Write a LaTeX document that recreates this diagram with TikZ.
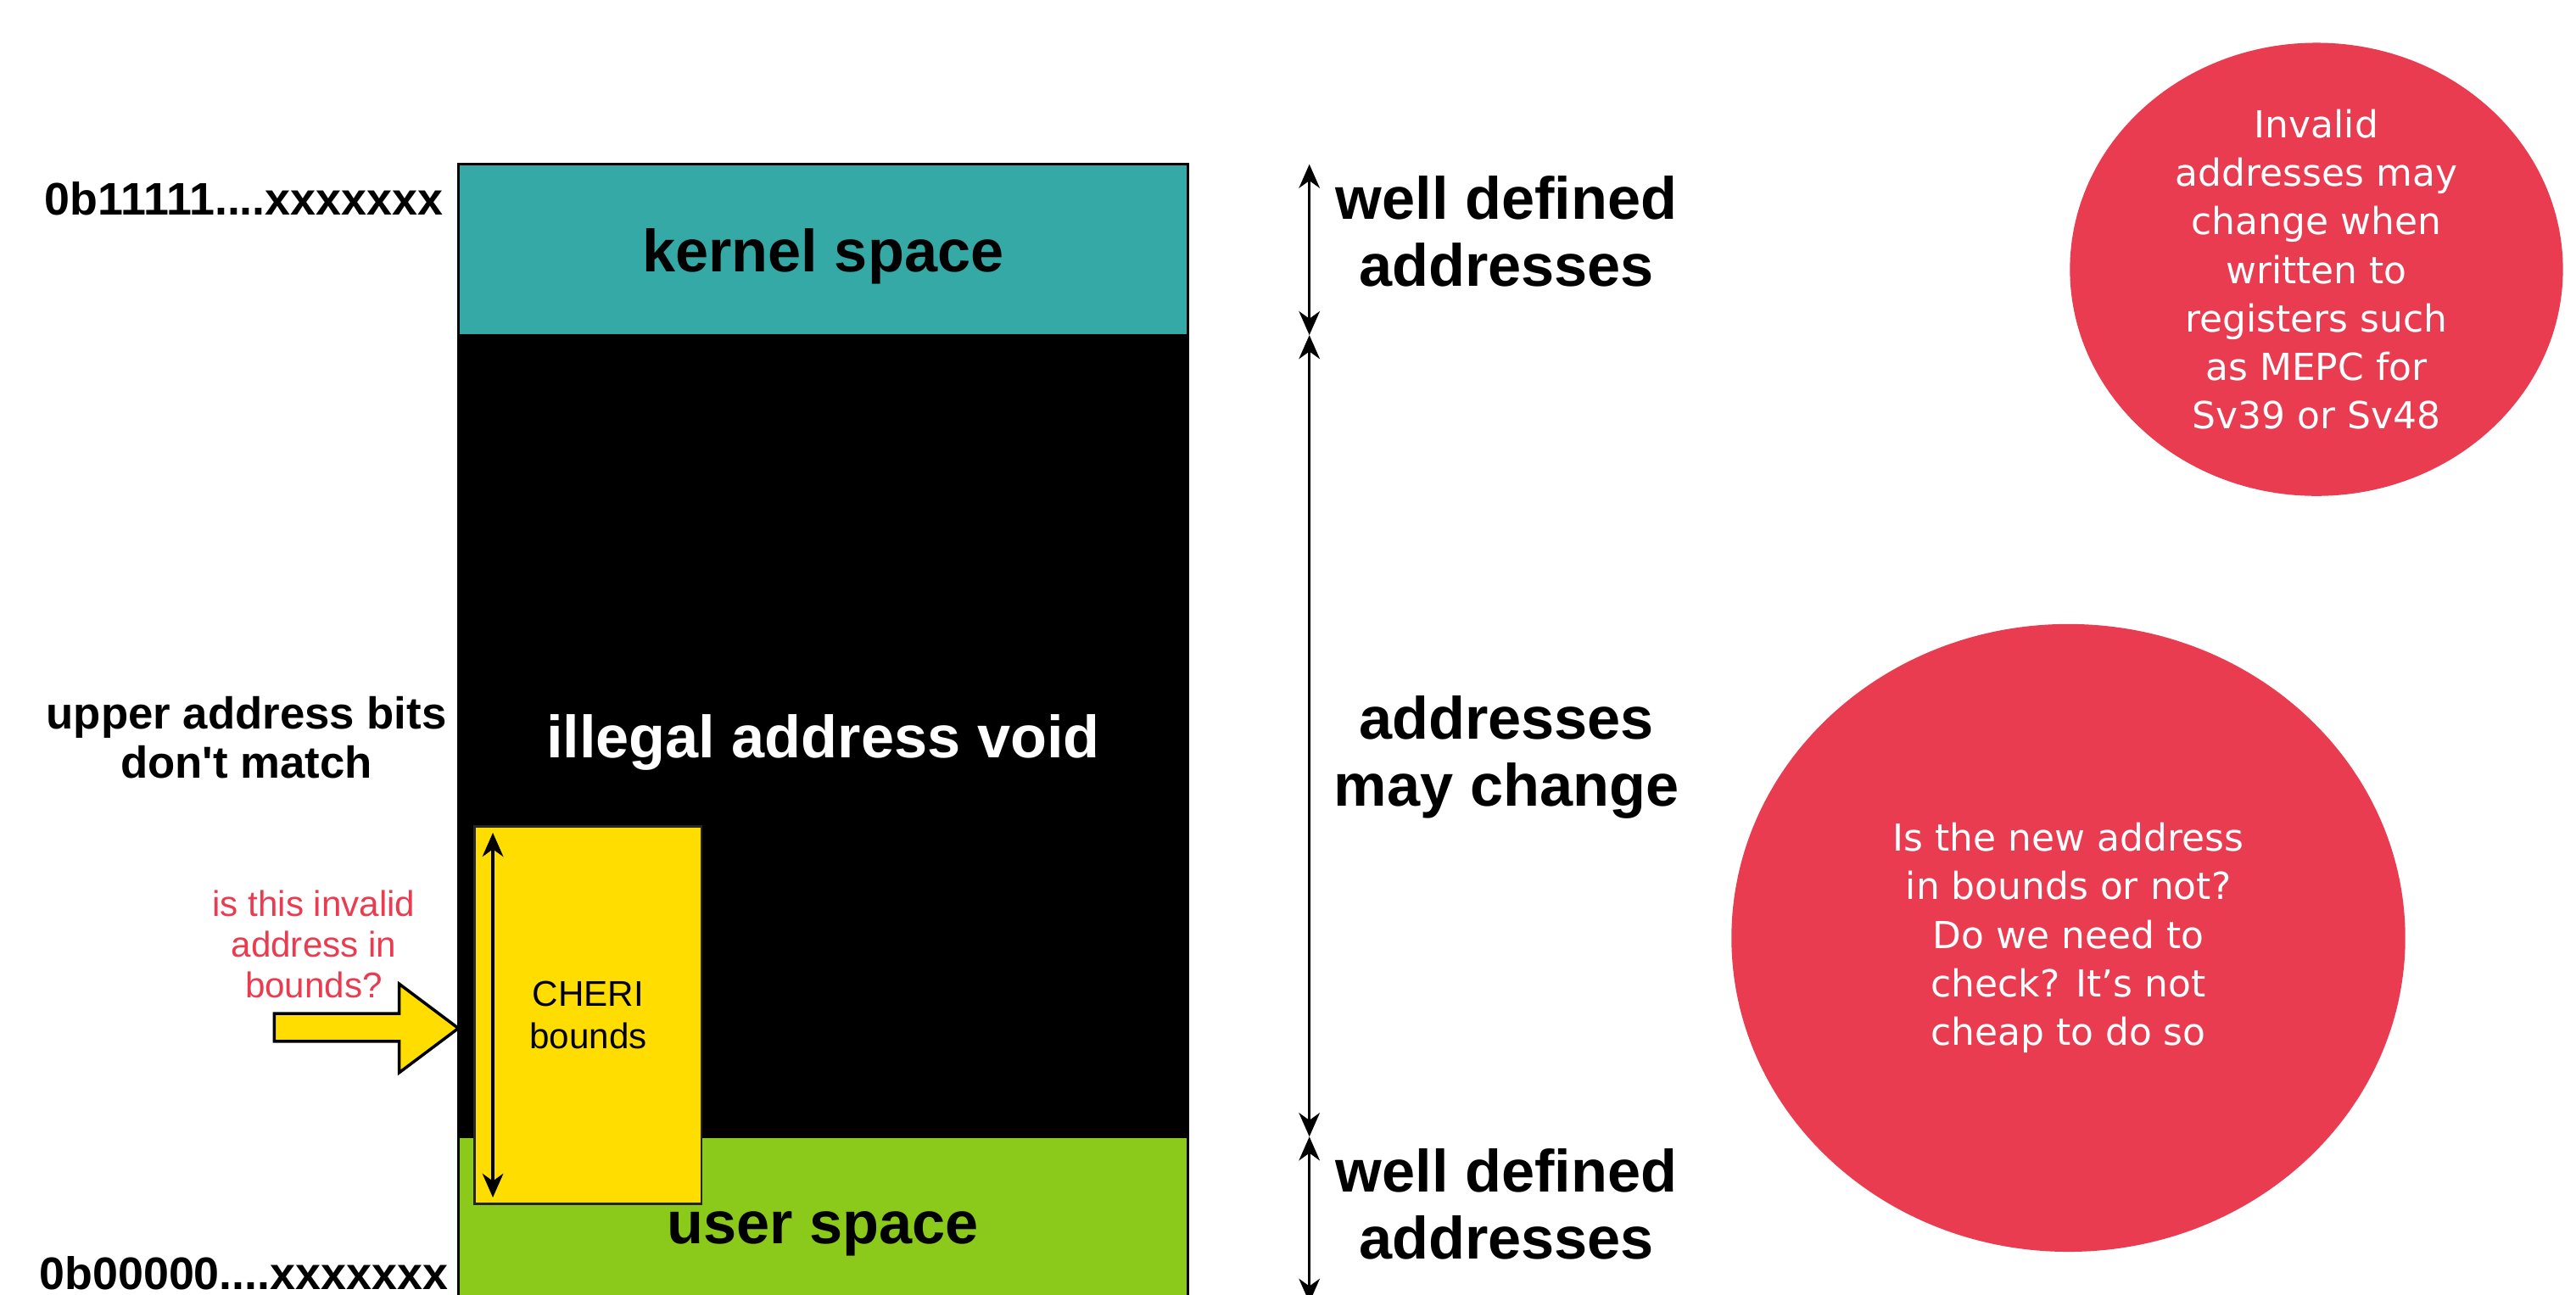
\documentclass[tikz,border=0pt]{standalone}
\usepackage{fontspec}
\setmainfont{Liberation Sans}
\newfontfamily\circfont{DejaVu Sans}
\usetikzlibrary{arrows.meta,shapes.geometric}
\definecolor{kteal}{RGB}{53,169,165}
\definecolor{ugreen}{RGB}{139,201,26}
\definecolor{cred}{RGB}{233,60,80}
\definecolor{cyel}{RGB}{255,221,0}
\begin{document}
\begin{tikzpicture}[x=0.01937cm,y=-0.01937cm,
  bigtxt/.style={font=\fontsize{20}{22.5}\selectfont\bfseries, align=center, inner sep=0},
  addr/.style={font=\fontsize{15.3}{16.5}\selectfont\bfseries, inner sep=0},
  tip/.tip={Stealth[length=8pt,width=7pt,inset=2.5pt]},
  dimarrow/.style={line width=0.9pt,tip-tip},
  bubble/.style={ellipse, fill=cred, inner sep=0, text=white, align=center,
    font=\circfont\fontsize{12.5}{16.3}\selectfont}]
\useasboundingbox (0,0) rectangle (1568,788);
% memory column
\draw[fill=black, line width=0.8pt] (279,204) rectangle (723,692);
\draw[fill=kteal, line width=0.8pt] (279,100) rectangle (723,204);
\draw[fill=ugreen, line width=0.8pt] (279,692) rectangle (723,800);
\node[bigtxt] (kernel) at (501,156) {kernel space};
\node[bigtxt, text=white] (void) at (501,452) {illegal address void};
\node[bigtxt] (user) at (501,751) {user space};
% CHERI bounds
\draw[fill=cyel, draw=black!85, line width=0.8pt] (289,503) rectangle (427,733);
\node[font=\fontsize{12}{14.3}\selectfont, align=center, inner sep=0] (cheri) at (358,618) {CHERI\\bounds};
\coordinate (b0) at (300,507);
\coordinate (b1) at (300,729);
\draw[dimarrow] (b0) -- (b1);
% block arrow
\draw[fill=cyel, line width=1pt, line join=miter] (167,617) -- (243,617) -- (243,599) -- (279,626) -- (243,653) -- (243,634) -- (167,634) -- cycle;
\node[font=\fontsize{12}{13.7}\selectfont, text=cred, align=center, inner sep=0] (q) at (191,575) {is this invalid\\address in\\bounds?};
% left labels
\node[addr, anchor=east] (hi) at (270,121) {0b11111....xxxxxxx};
\node[addr, anchor=east] (lo) at (273,775) {0b00000....xxxxxxx};
\node[font=\fontsize{15}{16.5}\selectfont\bfseries, align=center, inner sep=0] (upper) at (150,449) {upper address bits\\don\textquotesingle t match};
% dimension arrows
\coordinate (d0) at (797,100);
\coordinate (d1) at (797,204);
\coordinate (d2) at (797,692);
\coordinate (d3) at (797,793);
\draw[dimarrow] (d0) -- (d1);
\draw[dimarrow] (d1) -- (d2);
\draw[dimarrow] (d2) -- (d3);
\node[bigtxt] (wd1) at (917,141) {well defined\\addresses};
\node[bigtxt] (mc) at (917,461) {addresses\\may change};
\node[bigtxt] (wd2) at (917,733) {well defined\\addresses};
% bubbles
\node[bubble, minimum width=5.811cm, minimum height=5.307cm] (c1) at (1410,164)
  {Invalid\\addresses may\\change when\\written to\\registers such\\as MEPC for\\Sv39 or Sv48};
\node[bubble, minimum width=7.942cm, minimum height=7.40cm] (c2) at (1259,571)
  {Is the new address\\in bounds or not?\\Do we need to\\check? It’s not\\cheap to do so};
\end{tikzpicture}
\end{document}
